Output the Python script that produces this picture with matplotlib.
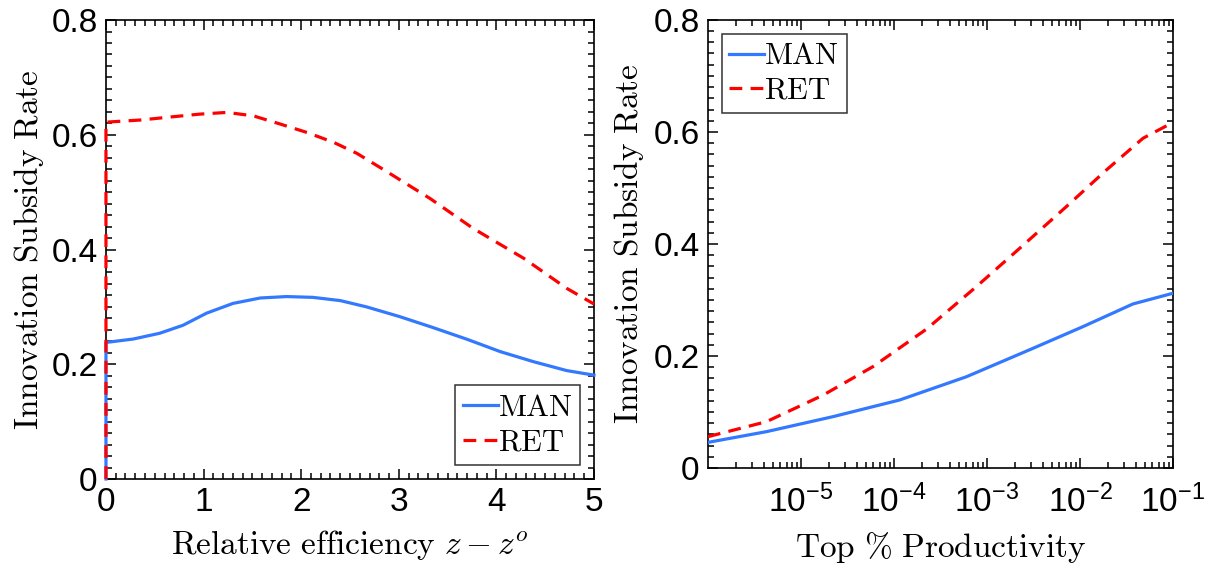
"""
Innovation subsidy rate by sector: relative efficiency and top productivity share.
"""

import matplotlib
matplotlib.use('Agg')
import matplotlib.pyplot as plt
from matplotlib.ticker import MultipleLocator, LogLocator, NullFormatter, FixedLocator
import numpy as np

plt.rcParams['font.family'] = ['Liberation Sans', 'DejaVu Sans']
plt.rcParams['mathtext.fontset'] = 'cm'

# Left panel: subsidy vs relative efficiency z - z^o
man_eff_x = [0.0, 0.0, 0.28, 0.55, 0.79, 1.03, 1.30, 1.58, 1.85, 2.12, 2.40,
             2.67, 3.01, 3.35, 3.70, 4.04, 4.38, 4.72, 5.0]
man_eff = [0.0, 0.238, 0.244, 0.254, 0.268, 0.289, 0.306, 0.3155, 0.318, 0.3166,
           0.311, 0.300, 0.283, 0.264, 0.2435, 0.222, 0.2045, 0.189, 0.181]
ret_eff_x = [0.0, 0.0, 0.35, 0.69, 0.96, 1.24, 1.51, 1.78, 2.06, 2.33, 2.57,
             2.84, 3.32, 3.76, 4.28, 4.72, 5.0]
ret_eff = [0.0, 0.622, 0.6257, 0.6315, 0.636, 0.639, 0.633, 0.619, 0.604, 0.587,
           0.5677, 0.5397, 0.489, 0.437, 0.3847, 0.3324, 0.305]

# Right panel: subsidy vs top % productivity (log10 of the share)
man_top_log = [-6.0, -5.372, -4.656, -3.94, -3.22, -2.505, -1.968, -1.43, -1.0]
man_top = [0.0458, 0.0649, 0.0917, 0.1214, 0.163, 0.2137, 0.2524, 0.2929, 0.312]
ret_top_log = [-6.0, -5.372, -4.763, -4.226, -3.65, -3.114, -2.648, -2.146,
               -1.716, -1.322, -1.0]
ret_top = [0.056, 0.0827, 0.130, 0.181, 0.248, 0.3238, 0.3923, 0.4667, 0.532,
           0.5887, 0.617]

top_ticks = [1e-5, 1e-4, 1e-3, 1e-2, 1e-1]
top_ticklabels = [r'$\mathregular{10^{-5}}$', r'$\mathregular{10^{-4}}$',
                  r'$\mathregular{10^{-3}}$', r'$\mathregular{10^{-2}}$',
                  r'$\mathregular{10^{-1}}$']

BLUE = '#3379ff'
RED = '#ff0000'
LW = 2.3
DASH = (4.0, 2.6)
TICK_FS = 24
LABEL_FS = 24
LEGEND_FS = 22


def style_axes(ax):
    ax.tick_params(which='both', direction='in', top=True, right=True,
                   labelsize=TICK_FS, width=1.1, pad=6)
    ax.tick_params(which='major', length=7)
    ax.tick_params(which='minor', length=4)
    for sp in ax.spines.values():
        sp.set_linewidth(1.2)
    ax.yaxis.set_minor_locator(MultipleLocator(0.02))
    ax.set_ylim(0, 0.8)
    ax.set_yticks([0, 0.2, 0.4, 0.6, 0.8])
    ax.set_yticklabels(['0', '0.2', '0.4', '0.6', '0.8'])
    ax.set_ylabel(r'$\mathrm{Innovation\ Subsidy\ Rate}$', fontsize=LABEL_FS)


def add_legend(ax, loc):
    leg = ax.legend(loc=loc, fontsize=LEGEND_FS, fancybox=False, framealpha=1,
                    edgecolor='#333333', handlelength=1.15, handletextpad=0.0,
                    borderpad=0.25, labelspacing=0.15, borderaxespad=0.45)
    leg.get_frame().set_linewidth(1.1)
    leg.set_zorder(5)
    return leg


fig = plt.figure(figsize=(12.11, 5.68), dpi=100)

ax1 = fig.add_axes([0.0875, 0.1567, 0.403, 0.808])
ax1.plot(man_eff_x, man_eff, color=BLUE, lw=LW, label=r'$\mathrm{MAN}$',
         clip_on=False, zorder=3)
ax1.plot(ret_eff_x, ret_eff, color=RED, lw=LW, dashes=DASH,
         label=r'$\mathrm{RET}$', clip_on=False, zorder=3.1)
ax1.set_xlim(0, 5)
ax1.xaxis.set_major_locator(MultipleLocator(1))
ax1.xaxis.set_minor_locator(MultipleLocator(0.1))
style_axes(ax1)
ax1.set_xlabel(r'$\mathrm{Relative\ efficiency}\ z - z^o$', fontsize=LABEL_FS,
               labelpad=7)
ax1.yaxis.set_label_coords(-0.123, 0.5)
add_legend(ax1, 'lower right')

ax2 = fig.add_axes([0.5846, 0.176, 0.384, 0.789])
ax2.plot(10 ** np.array(man_top_log), man_top, color=BLUE, lw=LW,
         label=r'$\mathrm{MAN}$', zorder=3)
ax2.plot(10 ** np.array(ret_top_log), ret_top, color=RED, lw=LW, dashes=DASH,
         label=r'$\mathrm{RET}$', zorder=3.1)
ax2.set_xscale('log')
ax2.set_xlim(1e-6, 1e-1)
ax2.xaxis.set_major_locator(FixedLocator(top_ticks))
ax2.xaxis.set_minor_locator(LogLocator(base=10, subs=np.arange(2, 10), numticks=20))
ax2.xaxis.set_minor_formatter(NullFormatter())
style_axes(ax2)
ax2.tick_params(axis='x', which='both', pad=12)
ax2.set_xticklabels(top_ticklabels)
ax2.set_xlabel(r'$\mathrm{Top\ \%\ Productivity}$', fontsize=LABEL_FS, labelpad=8)
ax2.yaxis.set_label_coords(-0.133, 0.5)
add_legend(ax2, 'upper left')

fig.savefig('out.png', dpi=100)
